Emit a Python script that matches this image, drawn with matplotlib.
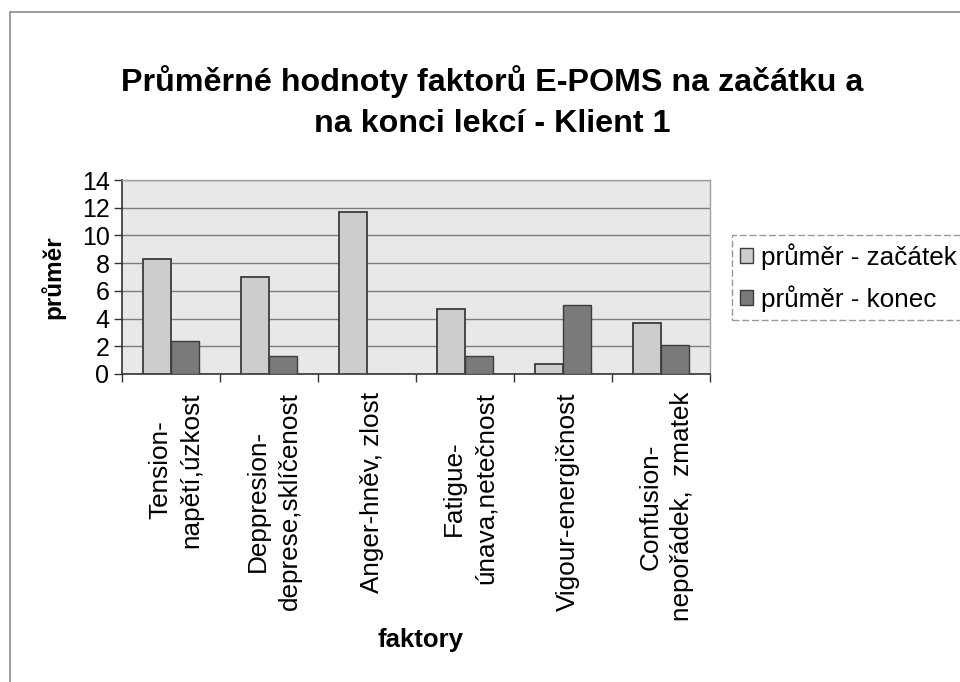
import matplotlib
matplotlib.use("Agg")
import matplotlib.pyplot as plt
import matplotlib.transforms as mtransforms
import numpy as np
from matplotlib.patches import Rectangle

categories = ["Tension-\nnapětí,úzkost", "Deppresion-\ndeprese,sklíčenost", "Anger-hněv, zlost",
              "Fatigue-\núnava,netečnost", "Vigour-energičnost", "Confusion-\nnepořádek,  zmatek"]
zacatek = [8.3, 7.0, 11.7, 4.7, 0.7, 3.65]
konec = [2.35, 1.3, 0.0, 1.3, 5.0, 2.1]
series_names = ["průměr - začátek", "průměr - konec"]
title = "Průměrné hodnoty faktorů E-POMS na začátku a\nna konci lekcí - Klient 1"
yticks = [0, 2, 4, 6, 8, 10, 12, 14]

plt.rcParams['font.family'] = ['Liberation Sans', 'DejaVu Sans']

W, H = 960, 682
fig = plt.figure(figsize=(W/100, H/100), dpi=100)
fig.patch.set_facecolor("white")

def fx(x): return x / W
def fy(y): return 1 - y / H

# chart frame
fig.patches.append(Rectangle((fx(10), -0.1), 1.2, fy(12) + 0.1, transform=fig.transFigure,
                             fill=False, edgecolor="#8c8c8c", linewidth=1.2))

ax = fig.add_axes([fx(122), fy(374), fx(710) - fx(122), fy(180) - fy(374)])
ax.set_facecolor("#e8e8e8")

x = np.arange(len(categories))
w = 0.285
light = "#cdcdcd"
dark = "#7a7a7a"
ax.bar(x - w/2, zacatek, width=w, color=light, edgecolor="#3c3c3c", linewidth=1.3, zorder=3)
ax.bar(x + w/2, konec, width=w, color=dark, edgecolor="#3c3c3c", linewidth=1.0, zorder=3)

ax.set_xlim(-0.5, len(categories) - 0.5)
ax.set_ylim(0, 14)
ax.set_yticks(yticks)
ax.set_yticklabels([str(t) for t in yticks], fontsize=18)
ax.yaxis.grid(True, color="#7c7c7c", linewidth=1.0, zorder=1)
ax.set_axisbelow(True)

ax.set_xticks(np.arange(len(categories) + 1) - 0.5)
ax.set_xticklabels([])
ax.set_xticks(x, minor=True)
ax.set_xticklabels(categories, minor=True, rotation=90, fontsize=18.8,
                   va="top", ha="center", multialignment="center", linespacing=1.4)
ax.tick_params(axis="x", which="minor", length=0, pad=13)
ax.tick_params(axis="x", which="major", length=6, width=1, color="#333333", direction="out")
ax.tick_params(axis="y", length=6, width=1, color="#333333", direction="out", pad=3)

shift = mtransforms.ScaledTranslation(5/100, 0, fig.dpi_scale_trans)
for lbl in ax.get_xticklabels(minor=True):
    lbl.set_transform(lbl.get_transform() + shift)

for s in ["top", "right"]:
    ax.spines[s].set_color("#a0a0a0")
    ax.spines[s].set_linewidth(1.0)
for s in ["left", "bottom"]:
    ax.spines[s].set_color("#333333")
    ax.spines[s].set_linewidth(1.2)

ax.set_ylabel("průměr", fontsize=17.5, fontweight="bold", labelpad=12)
fig.text(fx(421), fy(640), "faktory", fontsize=18.5, fontweight="bold", ha="center", va="center")

fig.text(fx(492), fy(102), title, fontsize=23.2, fontweight="bold", ha="center", va="center",
         linespacing=1.45)

handles = [Rectangle((0, 0), 1, 1, facecolor=light, edgecolor="#3c3c3c", linewidth=1.0),
           Rectangle((0, 0), 1, 1, facecolor=dark, edgecolor="#3c3c3c", linewidth=1.0)]
leg = fig.legend(handles, series_names, loc="upper left", bbox_to_anchor=(fx(732), fy(235)),
                 fontsize=18.8, frameon=True, fancybox=False, edgecolor="#808080",
                 handlelength=0.5, handleheight=0.5, handletextpad=0.3,
                 borderpad=0.3, labelspacing=0.6, borderaxespad=0)
leg.get_frame().set_linewidth(1.0)
leg.get_frame().set_linestyle((0, (5, 2)))

fig.savefig("out.png", dpi=100)
